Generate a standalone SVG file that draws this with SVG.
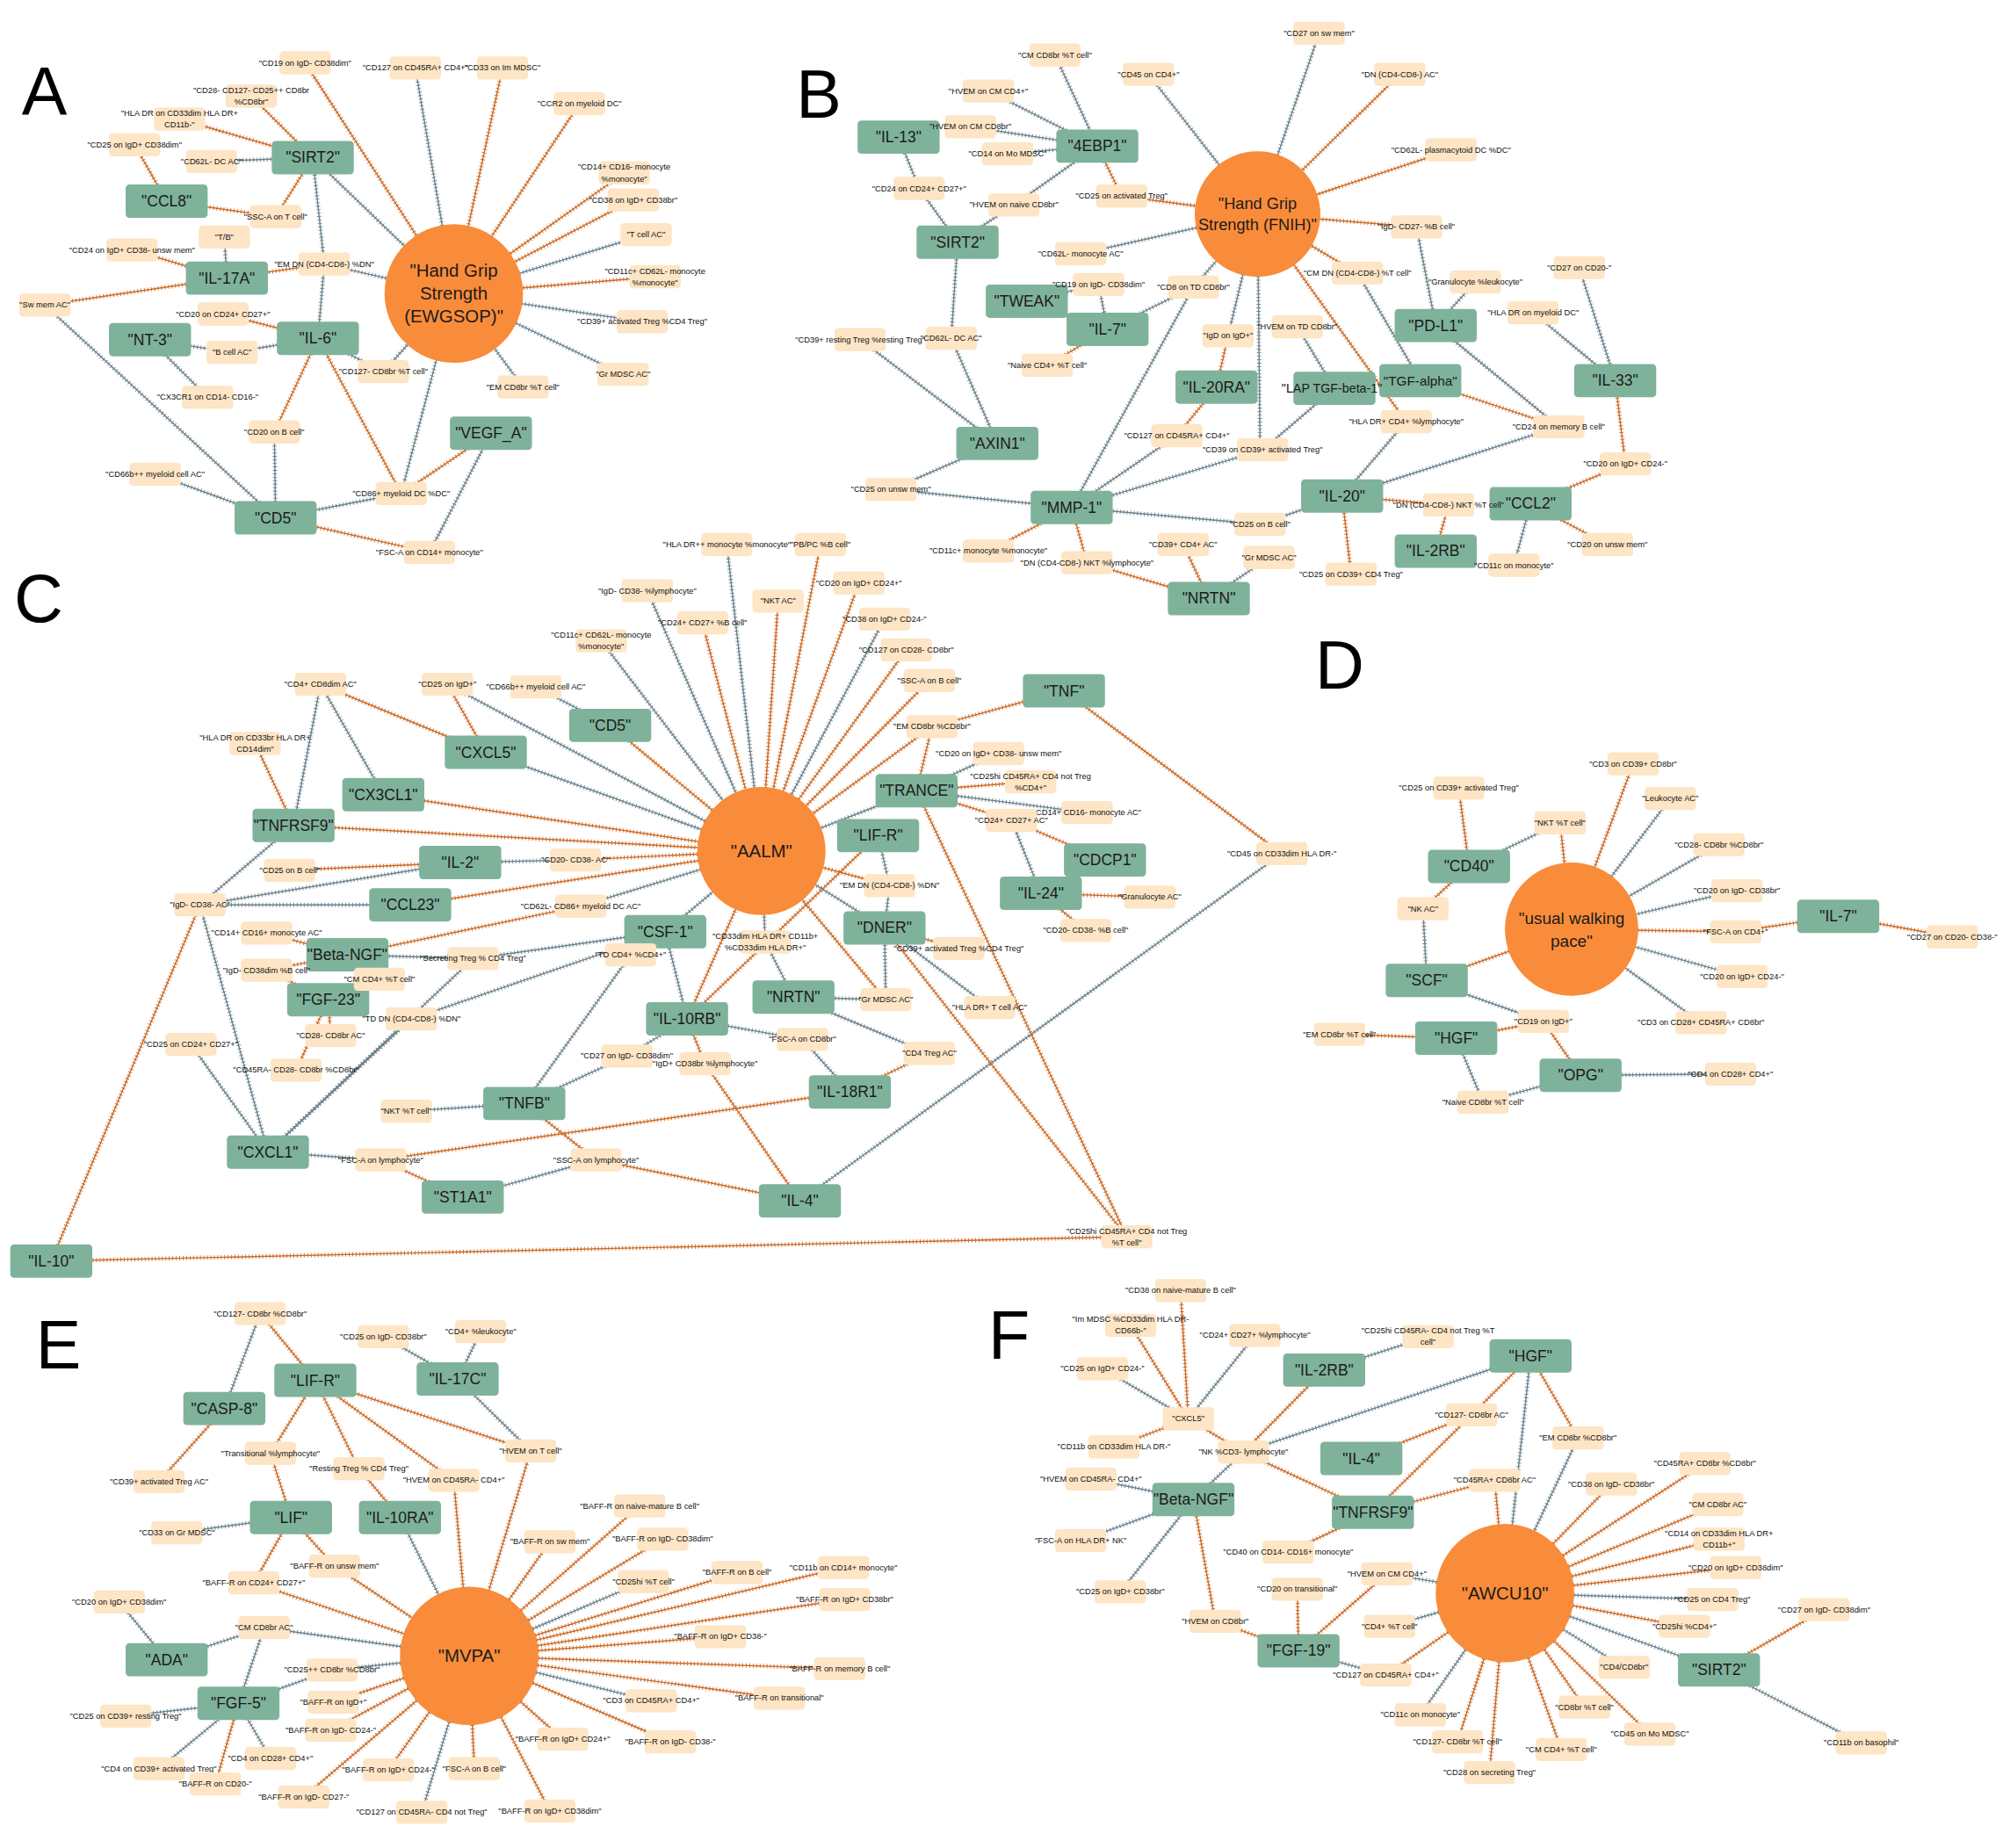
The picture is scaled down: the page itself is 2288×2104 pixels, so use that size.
<svg xmlns="http://www.w3.org/2000/svg" xmlns:xlink="http://www.w3.org/1999/xlink" width="2288" height="2104" viewBox="0 0 2288 2104">
<style>
.h circle{fill:#f98c3a}
.h text{font:14px "Liberation Sans",Arial,sans-serif;text-anchor:middle;dominant-baseline:central;fill:#1b1b1b}
.n use{fill:#7fb29b}
.n text{font:12px "Liberation Sans",Arial,sans-serif;text-anchor:middle;dominant-baseline:central;fill:#1b1b1b}
.l use{fill:#fde5c5}
.l text{font:6.4px "Liberation Sans",Arial,sans-serif;text-anchor:middle;dominant-baseline:central;fill:#111}
.o{stroke:#cc6a24;fill:none}
.g{stroke:#6b828c;fill:none}
.tk{stroke-width:3.4px;stroke-dasharray:.6 2.1}
.pl{font:53px "Liberation Sans",Arial,sans-serif;fill:#000}
</style>
<defs>
<rect id="nb" x="-32" y="-13" width="64" height="26" rx="3"/>
<rect id="lb" x="-20" y="-9" width="40" height="18" rx="3"/>
</defs>
<rect width="2288" height="2104" fill="#fff"/>
<g transform="scale(1.459184)">
<g id="edges">
<path class="o" d="M238 49L354 229"/><path class="g" d="M324 53L354 229"/><path class="o" d="M392 53L354 229"/><path class="o" d="M452 81L354 229"/><path class="o" d="M487 135L354 229"/><path class="o" d="M494 156L354 229"/><path class="g" d="M504 183L354 229"/><path class="o" d="M511 216L354 229"/><path class="g" d="M501 251L354 229"/><path class="g" d="M486 292L354 229"/><path class="g" d="M408 302L354 229"/><path class="g" d="M299 290L354 229"/><path class="g" d="M299 290L248 264"/><path class="g" d="M244 123L354 229"/><path class="g" d="M253 206L354 229"/><path class="o" d="M253 206L177 217"/><path class="g" d="M244 123L253 206"/><path class="g" d="M253 206L248 264"/><path class="o" d="M196 75L244 123"/><path class="o" d="M140 93L244 123"/><path class="g" d="M165 126L244 123"/><path class="o" d="M215 169L244 123"/><path class="o" d="M215 169L130 157"/><path class="o" d="M105 113L130 157"/><path class="g" d="M175 185L177 217"/><path class="o" d="M103 195L177 217"/><path class="o" d="M35 238L177 217"/><path class="g" d="M35 238L215 404"/><path class="o" d="M174 245L248 264"/><path class="g" d="M181 275L248 264"/><path class="g" d="M181 275L117 265"/><path class="g" d="M162 310L117 265"/><path class="o" d="M248 264L214 337"/><path class="g" d="M214 337L215 404"/><path class="o" d="M248 264L313 385"/><path class="g" d="M313 385L354 229"/><path class="g" d="M313 385L215 404"/><path class="o" d="M383 338L313 385"/><path class="g" d="M383 338L335 431"/><path class="o" d="M335 431L215 404"/><path class="g" d="M121 370L215 404"/>
<path class="g" d="M823 43L856 114"/><path class="g" d="M771 71L856 114"/><path class="g" d="M757 99L856 114"/><path class="g" d="M786 120L856 114"/><path class="g" d="M791 160L856 114"/><path class="g" d="M791 160L747 189"/><path class="o" d="M856 114L875 153"/><path class="o" d="M875 153L981 167"/><path class="g" d="M896 58L981 167"/><path class="g" d="M701 107L717 147"/><path class="g" d="M717 147L747 189"/><path class="g" d="M843 198L981 167"/><path class="g" d="M747 189L742 264"/><path class="g" d="M742 264L778 346"/><path class="g" d="M671 265L778 346"/><path class="g" d="M801 235L857 222"/><path class="g" d="M857 222L864 257"/><path class="g" d="M931 224L864 257"/><path class="g" d="M931 224L981 167"/><path class="o" d="M817 285L864 257"/><path class="g" d="M931 224L836 396"/><path class="g" d="M958 262L981 167"/><path class="o" d="M958 262L949 302"/><path class="o" d="M949 302L918 340"/><path class="g" d="M918 340L836 396"/><path class="g" d="M981 167L983 351"/><path class="g" d="M985 351L836 396"/><path class="g" d="M1041 303L985 351"/><path class="g" d="M1012 255L1041 303"/><path class="g" d="M695 382L836 396"/><path class="g" d="M778 346L695 382"/><path class="g" d="M836 396L983 409"/><path class="g" d="M983 409L1047 387"/><path class="o" d="M836 396L771 430"/><path class="o" d="M836 396L848 439"/><path class="o" d="M848 439L943 467"/><path class="o" d="M923 425L943 467"/><path class="g" d="M990 435L943 467"/><path class="g" d="M1029 26L981 167"/><path class="o" d="M1092 58L981 167"/><path class="o" d="M1132 117L981 167"/><path class="o" d="M1105 177L981 167"/><path class="g" d="M1105 177L1120 254"/><path class="o" d="M1059 213L981 167"/><path class="g" d="M1059 213L1108 297"/><path class="o" d="M981 167L1097 329"/><path class="g" d="M1097 329L1047 387"/><path class="g" d="M1151 220L1120 254"/><path class="g" d="M1120 254L1216 333"/><path class="o" d="M1108 297L1216 333"/><path class="g" d="M1216 333L1047 387"/><path class="g" d="M1196 244L1260 297"/><path class="g" d="M1232 209L1260 297"/><path class="o" d="M1260 297L1268 362"/><path class="o" d="M1268 362L1194 393"/><path class="o" d="M1130 394L1047 387"/><path class="o" d="M1130 394L1120 430"/><path class="o" d="M1047 387L1054 448"/><path class="g" d="M1194 393L1181 441"/><path class="o" d="M1194 393L1254 425"/>
<path class="g" d="M567 425L594 664"/><path class="o" d="M640 425L594 664"/><path class="g" d="M505 461L594 664"/><path class="o" d="M607 469L594 664"/><path class="o" d="M670 455L594 664"/><path class="o" d="M548 486L594 664"/><path class="g" d="M690 483L594 664"/><path class="g" d="M469 500L594 664"/><path class="o" d="M707 507L594 664"/><path class="o" d="M725 531L594 664"/><path class="o" d="M476 566L594 664"/><path class="g" d="M349 534L594 664"/><path class="g" d="M379 587L594 664"/><path class="o" d="M299 620L594 664"/><path class="o" d="M229 644L594 664"/><path class="o" d="M449 671L594 664"/><path class="g" d="M359 673L449 671"/><path class="o" d="M226 679L359 673"/><path class="g" d="M156 706L359 673"/><path class="g" d="M156 706L320 706"/><path class="g" d="M156 706L229 644"/><path class="o" d="M320 706L594 664"/><path class="g" d="M453 707L594 664"/><path class="o" d="M453 707L271 745"/><path class="g" d="M519 727L594 664"/><path class="o" d="M727 567L830 539"/><path class="o" d="M727 567L594 664"/><path class="o" d="M727 567L715 617"/><path class="g" d="M779 588L715 617"/><path class="o" d="M804 610L715 617"/><path class="g" d="M715 617L848 634"/><path class="o" d="M715 617L789 640"/><path class="o" d="M789 640L862 671"/><path class="g" d="M789 640L812 697"/><path class="g" d="M715 617L594 664"/><path class="o" d="M830 539L1000 666"/><path class="g" d="M1000 666L624 937"/><path class="o" d="M715 617L879 965"/><path class="o" d="M690 724L879 965"/><path class="o" d="M40 984L879 965"/><path class="o" d="M40 984L156 706"/><path class="o" d="M897 700L812 697"/><path class="o" d="M812 697L847 726"/><path class="o" d="M594 664L694 691"/><path class="g" d="M694 691L685 652"/><path class="g" d="M694 691L690 724"/><path class="g" d="M594 664L690 724"/><path class="o" d="M690 724L748 740"/><path class="g" d="M690 724L691 780"/><path class="g" d="M619 778L691 780"/><path class="o" d="M594 664L691 780"/><path class="g" d="M690 724L772 786"/><path class="g" d="M594 664L597 735"/><path class="o" d="M594 664L536 795"/><path class="o" d="M685 652L536 795"/><path class="g" d="M597 735L619 778"/><path class="g" d="M536 795L626 811"/><path class="g" d="M626 811L663 852"/><path class="g" d="M619 778L725 822"/><path class="o" d="M725 822L663 852"/><path class="o" d="M536 795L550 830"/><path class="o" d="M550 830L624 937"/><path class="o" d="M663 852L297 905"/><path class="g" d="M297 905L209 899"/><path class="o" d="M297 905L361 934"/><path class="o" d="M409 861L465 905"/><path class="g" d="M465 905L361 934"/><path class="o" d="M465 905L624 937"/><path class="o" d="M250 534L379 587"/><path class="g" d="M250 534L229 644"/><path class="g" d="M250 534L299 620"/><path class="o" d="M349 534L379 587"/><path class="g" d="M418 536L476 566"/><path class="o" d="M199 580L229 644"/><path class="o" d="M208 728L271 745"/><path class="o" d="M208 757L271 745"/><path class="o" d="M208 757L256 780"/><path class="g" d="M271 745L369 748"/><path class="g" d="M369 748L519 727"/><path class="g" d="M369 748L209 899"/><path class="o" d="M296 764L256 780"/><path class="o" d="M258 808L256 780"/><path class="o" d="M231 835L256 780"/><path class="g" d="M519 727L321 795"/><path class="g" d="M321 795L209 899"/><path class="g" d="M156 706L209 899"/><path class="g" d="M149 815L209 899"/><path class="g" d="M519 727L492 745"/><path class="g" d="M492 745L409 861"/><path class="g" d="M489 824L409 861"/><path class="g" d="M489 824L536 795"/><path class="g" d="M519 727L536 795"/><path class="g" d="M317 867L409 861"/>
<path class="o" d="M1274 596L1226 725"/><path class="o" d="M1138 615L1146 676"/><path class="g" d="M1303 623L1226 725"/><path class="o" d="M1217 642L1226 725"/><path class="g" d="M1217 642L1146 676"/><path class="g" d="M1341 659L1226 725"/><path class="g" d="M1355 695L1226 725"/><path class="o" d="M1354 727L1226 725"/><path class="o" d="M1434 715L1354 727"/><path class="o" d="M1523 731L1434 715"/><path class="g" d="M1359 762L1226 725"/><path class="g" d="M1327 798L1226 725"/><path class="o" d="M1110 709L1146 676"/><path class="g" d="M1110 709L1113 765"/><path class="o" d="M1113 765L1226 725"/><path class="g" d="M1113 765L1204 797"/><path class="o" d="M1204 797L1136 810"/><path class="o" d="M1204 797L1233 839"/><path class="o" d="M1045 807L1136 810"/><path class="g" d="M1136 810L1157 860"/><path class="g" d="M1157 860L1233 839"/><path class="g" d="M1233 839L1350 838"/>
<path class="g" d="M203 1025L175 1099"/><path class="o" d="M203 1025L246 1077"/><path class="o" d="M175 1099L124 1156"/><path class="o" d="M246 1077L211 1134"/><path class="o" d="M211 1134L227 1184"/><path class="o" d="M246 1077L280 1146"/><path class="o" d="M280 1146L312 1184"/><path class="o" d="M246 1077L354 1155"/><path class="o" d="M354 1155L366 1292"/><path class="o" d="M246 1077L414 1132"/><path class="o" d="M414 1132L366 1292"/><path class="g" d="M357 1076L299 1043"/><path class="g" d="M375 1039L357 1076"/><path class="g" d="M357 1076L414 1132"/><path class="g" d="M138 1196L227 1184"/><path class="o" d="M227 1184L198 1235"/><path class="o" d="M198 1235L366 1292"/><path class="o" d="M227 1184L261 1222"/><path class="o" d="M261 1222L366 1292"/><path class="g" d="M312 1184L366 1292"/><path class="g" d="M93 1250L130 1295"/><path class="g" d="M206 1270L130 1295"/><path class="g" d="M366 1292L206 1270"/><path class="g" d="M186 1329L206 1270"/><path class="g" d="M259 1303L186 1329"/><path class="g" d="M366 1292L259 1303"/><path class="g" d="M98 1339L186 1329"/><path class="g" d="M124 1380L186 1329"/><path class="o" d="M168 1392L186 1329"/><path class="g" d="M211 1372L186 1329"/><path class="o" d="M366 1292L260 1328"/><path class="o" d="M366 1292L258 1350"/><path class="o" d="M366 1292L303 1381"/><path class="o" d="M366 1292L237 1402"/><path class="o" d="M366 1292L370 1380"/><path class="g" d="M366 1292L329 1414"/><path class="o" d="M366 1292L429 1413"/><path class="o" d="M366 1292L439 1357"/><path class="o" d="M366 1292L523 1359"/><path class="g" d="M366 1292L508 1327"/><path class="o" d="M366 1292L608 1325"/><path class="o" d="M366 1292L655 1302"/><path class="o" d="M366 1292L562 1277"/><path class="o" d="M366 1292L659 1248"/><path class="o" d="M366 1292L658 1223"/><path class="o" d="M366 1292L575 1227"/><path class="g" d="M366 1292L502 1234"/><path class="o" d="M366 1292L517 1201"/><path class="o" d="M366 1292L499 1175"/><path class="o" d="M366 1292L429 1203"/>
<path class="o" d="M921 1007L927 1107"/><path class="o" d="M882 1034L927 1107"/><path class="g" d="M979 1042L927 1107"/><path class="g" d="M860 1068L927 1107"/><path class="o" d="M869 1129L927 1107"/><path class="o" d="M970 1133L927 1107"/><path class="o" d="M970 1133L1033 1069"/><path class="g" d="M970 1133L1194 1058"/><path class="g" d="M970 1133L931 1170"/><path class="o" d="M970 1133L1071 1180"/><path class="g" d="M1114 1043L1033 1069"/><path class="o" d="M1148 1104L1194 1058"/><path class="o" d="M1148 1104L1062 1138"/><path class="o" d="M1148 1104L1071 1180"/><path class="o" d="M1166 1155L1071 1180"/><path class="o" d="M1166 1155L1174 1243"/><path class="g" d="M851 1154L931 1170"/><path class="g" d="M843 1202L931 1170"/><path class="g" d="M874 1242L931 1170"/><path class="o" d="M931 1170L948 1265"/><path class="o" d="M948 1265L1013 1288"/><path class="o" d="M1005 1211L1071 1180"/><path class="o" d="M1012 1240L1013 1288"/><path class="o" d="M1082 1228L1013 1288"/><path class="g" d="M1174 1243L1082 1228"/><path class="g" d="M1174 1243L1084 1269"/><path class="g" d="M1081 1307L1013 1288"/><path class="o" d="M1174 1243L1081 1307"/><path class="g" d="M1174 1243L1108 1338"/><path class="o" d="M1174 1243L1137 1359"/><path class="o" d="M1174 1243L1162 1383"/><path class="g" d="M1194 1058L1174 1243"/><path class="o" d="M1194 1058L1231 1122"/><path class="g" d="M1231 1122L1174 1243"/><path class="o" d="M1174 1243L1257 1158"/><path class="o" d="M1174 1243L1330 1142"/><path class="o" d="M1174 1243L1340 1174"/><path class="o" d="M1174 1243L1341 1201"/><path class="o" d="M1174 1243L1354 1223"/><path class="g" d="M1174 1243L1336 1248"/><path class="o" d="M1174 1243L1314 1269"/><path class="g" d="M1174 1243L1341 1303"/><path class="o" d="M1423 1256L1341 1303"/><path class="g" d="M1341 1303L1452 1360"/><path class="g" d="M1174 1243L1267 1301"/><path class="o" d="M1174 1243L1236 1332"/><path class="o" d="M1174 1243L1287 1353"/><path class="o" d="M1174 1243L1218 1365"/>
</g>
<use href="#edges" class="tk"/>

<g id="a-hub" class="h" transform="translate(354,229)"><circle r="54"/><text><tspan x="0" y="-18">"Hand Grip</tspan><tspan x="0" y="0">Strength</tspan><tspan x="0" y="18">(EWGSOP)"</tspan></text></g>
<g id="b-hub" class="h" transform="translate(981,167)"><circle r="49"/><text style="font-size:12.5px"><tspan x="0" y="-9">"Hand Grip</tspan><tspan x="0" y="8">Strength (FNIH)"</tspan></text></g>
<g id="c-hub" class="h" transform="translate(594,664)"><circle r="50"/><text>"AALM"</text></g>
<g id="d-hub" class="h" transform="translate(1226,725)"><circle r="52"/><text style="font-size:13px"><tspan x="0" y="-9">"usual walking</tspan><tspan x="0" y="9">pace"</tspan></text></g>
<g id="e-hub" class="h" transform="translate(366,1292)"><circle r="54"/><text>"MVPA"</text></g>
<g id="f-hub" class="h" transform="translate(1174,1243)"><circle r="54"/><text>"AWCU10"</text></g>

<g id="a-sirt2" class="n" transform="translate(244,123)"><use href="#nb"/><text>"SIRT2"</text></g>
<g id="a-ccl8" class="n" transform="translate(130,157)"><use href="#nb"/><text>"CCL8"</text></g>
<g id="a-il17a" class="n" transform="translate(177,217)"><use href="#nb"/><text>"IL-17A"</text></g>
<g id="a-nt3" class="n" transform="translate(117,265)"><use href="#nb"/><text>"NT-3"</text></g>
<g id="a-il6" class="n" transform="translate(248,264)"><use href="#nb"/><text>"IL-6"</text></g>
<g id="a-vegfa" class="n" transform="translate(383,338)"><use href="#nb"/><text>"VEGF_A"</text></g>
<g id="a-cd5" class="n" transform="translate(215,404)"><use href="#nb"/><text>"CD5"</text></g>

<g id="b-il13" class="n" transform="translate(701,107)"><use href="#nb"/><text>"IL-13"</text></g>
<g id="b-4ebp1" class="n" transform="translate(856,114)"><use href="#nb"/><text>"4EBP1"</text></g>
<g id="b-sirt2" class="n" transform="translate(747,189)"><use href="#nb"/><text>"SIRT2"</text></g>
<g id="b-tweak" class="n" transform="translate(801,235)"><use href="#nb"/><text>"TWEAK"</text></g>
<g id="b-il7" class="n" transform="translate(864,257)"><use href="#nb"/><text>"IL-7"</text></g>
<g id="b-il20ra" class="n" transform="translate(949,302)"><use href="#nb"/><text>"IL-20RA"</text></g>
<g id="b-axin1" class="n" transform="translate(778,346)"><use href="#nb"/><text>"AXIN1"</text></g>
<g id="b-mmp1" class="n" transform="translate(836,396)"><use href="#nb"/><text>"MMP-1"</text></g>
<g id="b-nrtn" class="n" transform="translate(943,467)"><use href="#nb"/><text>"NRTN"</text></g>
<g id="b-pdl1" class="n" transform="translate(1120,254)"><use href="#nb"/><text>"PD-L1"</text></g>
<g id="b-tgfa" class="n" transform="translate(1108,297)"><use href="#nb"/><text style="font-size:10.5px">"TGF-alpha"</text></g>
<g id="b-lap" class="n" transform="translate(1041,303)"><use href="#nb"/><text x="-2" style="font-size:9.8px">"LAP TGF-beta-1"</text></g>
<g id="b-il33" class="n" transform="translate(1260,297)"><use href="#nb"/><text>"IL-33"</text></g>
<g id="b-il20" class="n" transform="translate(1047,387)"><use href="#nb"/><text>"IL-20"</text></g>
<g id="b-ccl2" class="n" transform="translate(1194,393)"><use href="#nb"/><text>"CCL2"</text></g>
<g id="b-il2rb" class="n" transform="translate(1120,430)"><use href="#nb"/><text>"IL-2RB"</text></g>

<g id="c-cd5" class="n" transform="translate(476,566)"><use href="#nb"/><text>"CD5"</text></g>
<g id="c-cxcl5" class="n" transform="translate(379,587)"><use href="#nb"/><text>"CXCL5"</text></g>
<g id="c-cx3cl1" class="n" transform="translate(299,620)"><use href="#nb"/><text>"CX3CL1"</text></g>
<g id="c-tnfrsf9" class="n" transform="translate(229,644)"><use href="#nb"/><text>"TNFRSF9"</text></g>
<g id="c-il2" class="n" transform="translate(359,673)"><use href="#nb"/><text>"IL-2"</text></g>
<g id="c-ccl23" class="n" transform="translate(320,706)"><use href="#nb"/><text>"CCL23"</text></g>
<g id="c-csf1" class="n" transform="translate(519,727)"><use href="#nb"/><text>"CSF-1"</text></g>
<g id="c-bngf" class="n" transform="translate(271,745)"><use href="#nb"/><text>"Beta-NGF"</text></g>
<g id="c-fgf23" class="n" transform="translate(256,780)"><use href="#nb"/><text>"FGF-23"</text></g>
<g id="c-cxcl1" class="n" transform="translate(209,899)"><use href="#nb"/><text>"CXCL1"</text></g>
<g id="c-tnfb" class="n" transform="translate(409,861)"><use href="#nb"/><text>"TNFB"</text></g>
<g id="c-st1a1" class="n" transform="translate(361,934)"><use href="#nb"/><text>"ST1A1"</text></g>
<g id="c-il10" class="n" transform="translate(40,984)"><use href="#nb"/><text>"IL-10"</text></g>
<g id="c-tnf" class="n" transform="translate(830,539)"><use href="#nb"/><text>"TNF"</text></g>
<g id="c-trance" class="n" transform="translate(715,617)"><use href="#nb"/><text>"TRANCE"</text></g>
<g id="c-lifr" class="n" transform="translate(685,652)"><use href="#nb"/><text>"LIF-R"</text></g>
<g id="c-cdcp1" class="n" transform="translate(862,671)"><use href="#nb"/><text>"CDCP1"</text></g>
<g id="c-il24" class="n" transform="translate(812,697)"><use href="#nb"/><text>"IL-24"</text></g>
<g id="c-dner" class="n" transform="translate(690,724)"><use href="#nb"/><text>"DNER"</text></g>
<g id="c-nrtn" class="n" transform="translate(619,778)"><use href="#nb"/><text>"NRTN"</text></g>
<g id="c-il10rb" class="n" transform="translate(536,795)"><use href="#nb"/><text>"IL-10RB"</text></g>
<g id="c-il18r1" class="n" transform="translate(663,852)"><use href="#nb"/><text>"IL-18R1"</text></g>
<g id="c-il4" class="n" transform="translate(624,937)"><use href="#nb"/><text>"IL-4"</text></g>

<g id="d-cd40" class="n" transform="translate(1146,676)"><use href="#nb"/><text>"CD40"</text></g>
<g id="d-scf" class="n" transform="translate(1113,765)"><use href="#nb"/><text>"SCF"</text></g>
<g id="d-hgf" class="n" transform="translate(1136,810)"><use href="#nb"/><text>"HGF"</text></g>
<g id="d-opg" class="n" transform="translate(1233,839)"><use href="#nb"/><text>"OPG"</text></g>
<g id="d-il7" class="n" transform="translate(1434,715)"><use href="#nb"/><text>"IL-7"</text></g>

<g id="e-casp8" class="n" transform="translate(175,1099)"><use href="#nb"/><text>"CASP-8"</text></g>
<g id="e-lifr" class="n" transform="translate(246,1077)"><use href="#nb"/><text>"LIF-R"</text></g>
<g id="e-il17c" class="n" transform="translate(357,1076)"><use href="#nb"/><text>"IL-17C"</text></g>
<g id="e-lif" class="n" transform="translate(227,1184)"><use href="#nb"/><text>"LIF"</text></g>
<g id="e-il10ra" class="n" transform="translate(312,1184)"><use href="#nb"/><text>"IL-10RA"</text></g>
<g id="e-ada" class="n" transform="translate(130,1295)"><use href="#nb"/><text>"ADA"</text></g>
<g id="e-fgf5" class="n" transform="translate(186,1329)"><use href="#nb"/><text>"FGF-5"</text></g>

<g id="f-il2rb" class="n" transform="translate(1033,1069)"><use href="#nb"/><text>"IL-2RB"</text></g>
<g id="f-hgf" class="n" transform="translate(1194,1058)"><use href="#nb"/><text>"HGF"</text></g>
<g id="f-il4" class="n" transform="translate(1062,1138)"><use href="#nb"/><text>"IL-4"</text></g>
<g id="f-bngf" class="n" transform="translate(931,1170)"><use href="#nb"/><text>"Beta-NGF"</text></g>
<g id="f-tnfrsf9" class="n" transform="translate(1071,1180)"><use href="#nb"/><text>"TNFRSF9"</text></g>
<g id="f-fgf19" class="n" transform="translate(1013,1288)"><use href="#nb"/><text>"FGF-19"</text></g>
<g id="f-sirt2" class="n" transform="translate(1341,1303)"><use href="#nb"/><text>"SIRT2"</text></g>

<g id="a-l1" class="l" transform="translate(238,49)"><use href="#lb"/><text>"CD19 on IgD- CD38dim"</text></g>
<g id="a-l2" class="l" transform="translate(324,53)"><use href="#lb"/><text>"CD127 on CD45RA+ CD4+"</text></g>
<g id="a-l3" class="l" transform="translate(392,53)"><use href="#lb"/><text>"CD33 on Im MDSC"</text></g>
<g id="a-l4" class="l" transform="translate(452,81)"><use href="#lb"/><text>"CCR2 on myeloid DC"</text></g>
<g id="a-l5" class="l" transform="translate(196,75)"><use href="#lb"/><text><tspan x="0" y="-4.5">"CD28- CD127- CD25++ CD8br</tspan><tspan x="0" y="4.5">%CD8br"</tspan></text></g>
<g id="a-l6" class="l" transform="translate(140,93)"><use href="#lb"/><text><tspan x="0" y="-4.5">"HLA DR on CD33dim HLA DR+</tspan><tspan x="0" y="4.5">CD11b-"</tspan></text></g>
<g id="a-l7" class="l" transform="translate(105,113)"><use href="#lb"/><text>"CD25 on IgD+ CD38dim"</text></g>
<g id="a-l8" class="l" transform="translate(165,126)"><use href="#lb"/><text>"CD62L- DC AC"</text></g>
<g id="a-l9" class="l" transform="translate(487,135)"><use href="#lb"/><text><tspan x="0" y="-4.5">"CD14+ CD16- monocyte</tspan><tspan x="0" y="4.5">%monocyte"</tspan></text></g>
<g id="a-l10" class="l" transform="translate(494,156)"><use href="#lb"/><text>"CD38 on IgD+ CD38br"</text></g>
<g id="a-l11" class="l" transform="translate(504,183)"><use href="#lb"/><text>"T cell AC"</text></g>
<g id="a-l12" class="l" transform="translate(215,169)"><use href="#lb"/><text>"SSC-A on T cell"</text></g>
<g id="a-l13" class="l" transform="translate(175,185)"><use href="#lb"/><text>"T/B"</text></g>
<g id="a-l14" class="l" transform="translate(103,195)"><use href="#lb"/><text>"CD24 on IgD+ CD38- unsw mem"</text></g>
<g id="a-l15" class="l" transform="translate(253,206)"><use href="#lb"/><text>"EM DN (CD4-CD8-) %DN"</text></g>
<g id="a-l16" class="l" transform="translate(511,216)"><use href="#lb"/><text><tspan x="0" y="-4.5">"CD11c+ CD62L- monocyte</tspan><tspan x="0" y="4.5">%monocyte"</tspan></text></g>
<g id="a-l17" class="l" transform="translate(35,238)"><use href="#lb"/><text>"Sw mem AC"</text></g>
<g id="a-l18" class="l" transform="translate(501,251)"><use href="#lb"/><text>"CD39+ activated Treg %CD4 Treg"</text></g>
<g id="a-l19" class="l" transform="translate(174,245)"><use href="#lb"/><text>"CD20 on CD24+ CD27+"</text></g>
<g id="a-l20" class="l" transform="translate(181,275)"><use href="#lb"/><text>"B cell AC"</text></g>
<g id="a-l21" class="l" transform="translate(299,290)"><use href="#lb"/><text>"CD127- CD8br %T cell"</text></g>
<g id="a-l22" class="l" transform="translate(486,292)"><use href="#lb"/><text>"Gr MDSC AC"</text></g>
<g id="a-l23" class="l" transform="translate(408,302)"><use href="#lb"/><text>"EM CD8br %T cell"</text></g>
<g id="a-l24" class="l" transform="translate(162,310)"><use href="#lb"/><text>"CX3CR1 on CD14- CD16-"</text></g>
<g id="a-l25" class="l" transform="translate(214,337)"><use href="#lb"/><text>"CD20 on B cell"</text></g>
<g id="a-l26" class="l" transform="translate(121,370)"><use href="#lb"/><text>"CD66b++ myeloid cell AC"</text></g>
<g id="a-l27" class="l" transform="translate(313,385)"><use href="#lb"/><text>"CD86+ myeloid DC %DC"</text></g>
<g id="a-l28" class="l" transform="translate(335,431)"><use href="#lb"/><text>"FSC-A on CD14+ monocyte"</text></g>

<g id="b-l1" class="l" transform="translate(823,43)"><use href="#lb"/><text>"CM CD8br %T cell"</text></g>
<g id="b-l2" class="l" transform="translate(896,58)"><use href="#lb"/><text>"CD45 on CD4+"</text></g>
<g id="b-l3" class="l" transform="translate(771,71)"><use href="#lb"/><text>"HVEM on CM CD4+"</text></g>
<g id="b-l4" class="l" transform="translate(757,99)"><use href="#lb"/><text>"HVEM on CM CD8br"</text></g>
<g id="b-l5" class="l" transform="translate(786,120)"><use href="#lb"/><text>"CD14 on Mo MDSC"</text></g>
<g id="b-l6" class="l" transform="translate(717,147)"><use href="#lb"/><text>"CD24 on CD24+ CD27+"</text></g>
<g id="b-l7" class="l" transform="translate(791,160)"><use href="#lb"/><text>"HVEM on naive CD8br"</text></g>
<g id="b-l8" class="l" transform="translate(875,153)"><use href="#lb"/><text>"CD25 on activated Treg"</text></g>
<g id="b-l9" class="l" transform="translate(843,198)"><use href="#lb"/><text>"CD62L- monocyte AC"</text></g>
<g id="b-l10" class="l" transform="translate(857,222)"><use href="#lb"/><text>"CD19 on IgD- CD38dim"</text></g>
<g id="b-l11" class="l" transform="translate(931,224)"><use href="#lb"/><text>"CD8 on TD CD8br"</text></g>
<g id="b-l12" class="l" transform="translate(671,265)"><use href="#lb"/><text>"CD39+ resting Treg %resting Treg"</text></g>
<g id="b-l13" class="l" transform="translate(742,264)"><use href="#lb"/><text>"CD62L- DC AC"</text></g>
<g id="b-l14" class="l" transform="translate(817,285)"><use href="#lb"/><text>"Naive CD4+  %T cell"</text></g>
<g id="b-l15" class="l" transform="translate(958,262)"><use href="#lb"/><text>"IgD on IgD+"</text></g>
<g id="b-l16" class="l" transform="translate(918,340)"><use href="#lb"/><text>"CD127 on CD45RA+ CD4+"</text></g>
<g id="b-l17" class="l" transform="translate(985,351)"><use href="#lb"/><text>"CD39 on CD39+ activated Treg"</text></g>
<g id="b-l18" class="l" transform="translate(695,382)"><use href="#lb"/><text>"CD25 on unsw mem"</text></g>
<g id="b-l19" class="l" transform="translate(983,409)"><use href="#lb"/><text>"CD25 on B cell"</text></g>
<g id="b-l20" class="l" transform="translate(771,430)"><use href="#lb"/><text>"CD11c+ monocyte %monocyte"</text></g>
<g id="b-l21" class="l" transform="translate(848,439)"><use href="#lb"/><text>"DN (CD4-CD8-) NKT %lymphocyte"</text></g>
<g id="b-l22" class="l" transform="translate(923,425)"><use href="#lb"/><text>"CD39+ CD4+ AC"</text></g>
<g id="b-l23" class="l" transform="translate(990,435)"><use href="#lb"/><text>"Gr MDSC AC"</text></g>
<g id="b-l24" class="l" transform="translate(1029,26)"><use href="#lb"/><text>"CD27 on sw mem"</text></g>
<g id="b-l25" class="l" transform="translate(1092,58)"><use href="#lb"/><text>"DN (CD4-CD8-) AC"</text></g>
<g id="b-l26" class="l" transform="translate(1132,117)"><use href="#lb"/><text>"CD62L- plasmacytoid DC %DC"</text></g>
<g id="b-l27" class="l" transform="translate(1105,177)"><use href="#lb"/><text>"IgD- CD27- %B cell"</text></g>
<g id="b-l28" class="l" transform="translate(1059,213)"><use href="#lb"/><text>"CM DN (CD4-CD8-) %T cell"</text></g>
<g id="b-l29" class="l" transform="translate(1151,220)"><use href="#lb"/><text>"Granulocyte %leukocyte"</text></g>
<g id="b-l30" class="l" transform="translate(1232,209)"><use href="#lb"/><text>"CD27 on CD20-"</text></g>
<g id="b-l31" class="l" transform="translate(1196,244)"><use href="#lb"/><text>"HLA DR on myeloid DC"</text></g>
<g id="b-l32" class="l" transform="translate(1012,255)"><use href="#lb"/><text>"HVEM on TD CD8br"</text></g>
<g id="b-l33" class="l" transform="translate(1097,329)"><use href="#lb"/><text>"HLA DR+ CD4+ %lymphocyte"</text></g>
<g id="b-l34" class="l" transform="translate(1216,333)"><use href="#lb"/><text>"CD24 on memory B cell"</text></g>
<g id="b-l35" class="l" transform="translate(1268,362)"><use href="#lb"/><text>"CD20 on IgD+ CD24-"</text></g>
<g id="b-l36" class="l" transform="translate(1130,394)"><use href="#lb"/><text>"DN (CD4-CD8-) NKT %T cell"</text></g>
<g id="b-l37" class="l" transform="translate(1254,425)"><use href="#lb"/><text>"CD20 on unsw mem"</text></g>
<g id="b-l38" class="l" transform="translate(1181,441)"><use href="#lb"/><text>"CD11c on monocyte"</text></g>
<g id="b-l39" class="l" transform="translate(1054,448)"><use href="#lb"/><text>"CD25 on CD39+ CD4 Treg"</text></g>

<g id="c-l1" class="l" transform="translate(567,425)"><use href="#lb"/><text>"HLA DR++ monocyte %monocyte"</text></g>
<g id="c-l2" class="l" transform="translate(640,425)"><use href="#lb"/><text>"PB/PC %B cell"</text></g>
<g id="c-l3" class="l" transform="translate(505,461)"><use href="#lb"/><text>"IgD- CD38- %lymphocyte"</text></g>
<g id="c-l4" class="l" transform="translate(607,469)"><use href="#lb"/><text>"NKT AC"</text></g>
<g id="c-l5" class="l" transform="translate(670,455)"><use href="#lb"/><text>"CD20 on IgD+ CD24+"</text></g>
<g id="c-l6" class="l" transform="translate(548,486)"><use href="#lb"/><text>"CD24+ CD27+ %B cell"</text></g>
<g id="c-l7" class="l" transform="translate(690,483)"><use href="#lb"/><text>"CD38 on IgD+ CD24-"</text></g>
<g id="c-l8" class="l" transform="translate(469,500)"><use href="#lb"/><text><tspan x="0" y="-4.5">"CD11c+ CD62L- monocyte</tspan><tspan x="0" y="4.5">%monocyte"</tspan></text></g>
<g id="c-l9" class="l" transform="translate(707,507)"><use href="#lb"/><text>"CD127 on CD28- CD8br"</text></g>
<g id="c-l10" class="l" transform="translate(725,531)"><use href="#lb"/><text>"SSC-A on B cell"</text></g>
<g id="c-l11" class="l" transform="translate(250,534)"><use href="#lb"/><text>"CD4+ CD8dim AC"</text></g>
<g id="c-l12" class="l" transform="translate(349,534)"><use href="#lb"/><text>"CD25 on IgD+"</text></g>
<g id="c-l13" class="l" transform="translate(418,536)"><use href="#lb"/><text>"CD66b++ myeloid cell AC"</text></g>
<g id="c-l14" class="l" transform="translate(727,567)"><use href="#lb"/><text>"EM CD8br %CD8br"</text></g>
<g id="c-l15" class="l" transform="translate(199,580)"><use href="#lb"/><text><tspan x="0" y="-4.5">"HLA DR on CD33br HLA DR+</tspan><tspan x="0" y="4.5">CD14dim"</tspan></text></g>
<g id="c-l16" class="l" transform="translate(779,588)"><use href="#lb"/><text>"CD20 on IgD+ CD38- unsw mem"</text></g>
<g id="c-l17" class="l" transform="translate(804,610)"><use href="#lb"/><text><tspan x="0" y="-4.5">"CD25hi CD45RA+ CD4 not Treg</tspan><tspan x="0" y="4.5">%CD4+"</tspan></text></g>
<g id="c-l18" class="l" transform="translate(848,634)"><use href="#lb"/><text>"CD14+ CD16- monocyte AC"</text></g>
<g id="c-l19" class="l" transform="translate(789,640)"><use href="#lb"/><text>"CD24+ CD27+ AC"</text></g>
<g id="c-l20" class="l" transform="translate(1000,666)"><use href="#lb"/><text>"CD45 on CD33dim HLA DR-"</text></g>
<g id="c-l21" class="l" transform="translate(226,679)"><use href="#lb"/><text>"CD25 on B cell"</text></g>
<g id="c-l22" class="l" transform="translate(449,671)"><use href="#lb"/><text>"CD20- CD38- AC"</text></g>
<g id="c-l23" class="l" transform="translate(156,706)"><use href="#lb"/><text>"IgD- CD38- AC"</text></g>
<g id="c-l24" class="l" transform="translate(897,700)"><use href="#lb"/><text>"Granulocyte AC"</text></g>
<g id="c-l25" class="l" transform="translate(694,691)"><use href="#lb"/><text>"EM DN (CD4-CD8-) %DN"</text></g>
<g id="c-l26" class="l" transform="translate(453,707)"><use href="#lb"/><text>"CD62L- CD86+ myeloid DC AC"</text></g>
<g id="c-l27" class="l" transform="translate(597,735)"><use href="#lb"/><text><tspan x="0" y="-4.5">"CD33dim HLA DR+ CD11b+</tspan><tspan x="0" y="4.5">%CD33dim HLA DR+"</tspan></text></g>
<g id="c-l28" class="l" transform="translate(847,726)"><use href="#lb"/><text>"CD20- CD38- %B cell"</text></g>
<g id="c-l29" class="l" transform="translate(208,728)"><use href="#lb"/><text>"CD14+ CD16+ monocyte AC"</text></g>
<g id="c-l30" class="l" transform="translate(748,740)"><use href="#lb"/><text>"CD39+ activated Treg %CD4 Treg"</text></g>
<g id="c-l31" class="l" transform="translate(208,757)"><use href="#lb"/><text>"IgD- CD38dim %B cell"</text></g>
<g id="c-l32" class="l" transform="translate(369,748)"><use href="#lb"/><text>"Secreting Treg % CD4 Treg"</text></g>
<g id="c-l33" class="l" transform="translate(296,764)"><use href="#lb"/><text>"CM CD4+ %T cell"</text></g>
<g id="c-l34" class="l" transform="translate(492,745)"><use href="#lb"/><text>"TD CD4+ %CD4+"</text></g>
<g id="c-l35" class="l" transform="translate(691,780)"><use href="#lb"/><text>"Gr MDSC AC"</text></g>
<g id="c-l36" class="l" transform="translate(772,786)"><use href="#lb"/><text>"HLA DR+ T cell AC"</text></g>
<g id="c-l37" class="l" transform="translate(258,808)"><use href="#lb"/><text>"CD28- CD8br AC"</text></g>
<g id="c-l38" class="l" transform="translate(321,795)"><use href="#lb"/><text>"TD DN (CD4-CD8-) %DN"</text></g>
<g id="c-l39" class="l" transform="translate(149,815)"><use href="#lb"/><text>"CD25 on CD24+ CD27+"</text></g>
<g id="c-l40" class="l" transform="translate(489,824)"><use href="#lb"/><text>"CD27 on IgD- CD38dim"</text></g>
<g id="c-l41" class="l" transform="translate(550,830)"><use href="#lb"/><text>"IgD+ CD38br %lymphocyte"</text></g>
<g id="c-l42" class="l" transform="translate(626,811)"><use href="#lb"/><text>"FSC-A on CD8br"</text></g>
<g id="c-l43" class="l" transform="translate(725,822)"><use href="#lb"/><text>"CD4 Treg AC"</text></g>
<g id="c-l44" class="l" transform="translate(231,835)"><use href="#lb"/><text>"CD45RA- CD28- CD8br  %CD8br"</text></g>
<g id="c-l45" class="l" transform="translate(317,867)"><use href="#lb"/><text>"NKT %T cell"</text></g>
<g id="c-l46" class="l" transform="translate(297,905)"><use href="#lb"/><text>"FSC-A on lymphocyte"</text></g>
<g id="c-l47" class="l" transform="translate(465,905)"><use href="#lb"/><text>"SSC-A on lymphocyte"</text></g>
<g id="c-l48" class="l" transform="translate(879,965)"><use href="#lb"/><text><tspan x="0" y="-4.5">"CD25hi CD45RA+ CD4 not Treg</tspan><tspan x="0" y="4.5">%T cell"</tspan></text></g>

<g id="d-l1" class="l" transform="translate(1274,596)"><use href="#lb"/><text>"CD3 on CD39+ CD8br"</text></g>
<g id="d-l2" class="l" transform="translate(1138,615)"><use href="#lb"/><text>"CD25 on CD39+ activated Treg"</text></g>
<g id="d-l3" class="l" transform="translate(1303,623)"><use href="#lb"/><text>"Leukocyte AC"</text></g>
<g id="d-l4" class="l" transform="translate(1217,642)"><use href="#lb"/><text>"NKT %T cell"</text></g>
<g id="d-l5" class="l" transform="translate(1341,659)"><use href="#lb"/><text>"CD28- CD8br %CD8br"</text></g>
<g id="d-l6" class="l" transform="translate(1355,695)"><use href="#lb"/><text>"CD20 on IgD- CD38br"</text></g>
<g id="d-l7" class="l" transform="translate(1110,709)"><use href="#lb"/><text>"NK AC"</text></g>
<g id="d-l8" class="l" transform="translate(1354,727)"><use href="#lb"/><text>"FSC-A on CD4+"</text></g>
<g id="d-l9" class="l" transform="translate(1523,731)"><use href="#lb"/><text>"CD27 on CD20- CD38-"</text></g>
<g id="d-l10" class="l" transform="translate(1359,762)"><use href="#lb"/><text>"CD20 on IgD+ CD24-"</text></g>
<g id="d-l11" class="l" transform="translate(1204,797)"><use href="#lb"/><text>"CD19 on IgD+"</text></g>
<g id="d-l12" class="l" transform="translate(1327,798)"><use href="#lb"/><text>"CD3 on CD28+ CD45RA+ CD8br"</text></g>
<g id="d-l13" class="l" transform="translate(1045,807)"><use href="#lb"/><text>"EM CD8br %T cell"</text></g>
<g id="d-l14" class="l" transform="translate(1350,838)"><use href="#lb"/><text>"CD4 on CD28+ CD4+"</text></g>
<g id="d-l15" class="l" transform="translate(1157,860)"><use href="#lb"/><text>"Naive CD8br %T cell"</text></g>

<g id="e-l1" class="l" transform="translate(203,1025)"><use href="#lb"/><text>"CD127- CD8br %CD8br"</text></g>
<g id="e-l2" class="l" transform="translate(299,1043)"><use href="#lb"/><text>"CD25 on IgD- CD38br"</text></g>
<g id="e-l3" class="l" transform="translate(375,1039)"><use href="#lb"/><text>"CD4+ %leukocyte"</text></g>
<g id="e-l4" class="l" transform="translate(211,1134)"><use href="#lb"/><text>"Transitional %lymphocyte"</text></g>
<g id="e-l5" class="l" transform="translate(124,1156)"><use href="#lb"/><text>"CD39+ activated Treg AC"</text></g>
<g id="e-l6" class="l" transform="translate(280,1146)"><use href="#lb"/><text>"Resting Treg % CD4 Treg"</text></g>
<g id="e-l7" class="l" transform="translate(354,1155)"><use href="#lb"/><text>"HVEM on CD45RA- CD4+"</text></g>
<g id="e-l8" class="l" transform="translate(414,1132)"><use href="#lb"/><text>"HVEM on T cell"</text></g>
<g id="e-l9" class="l" transform="translate(138,1196)"><use href="#lb"/><text>"CD33 on Gr MDSC"</text></g>
<g id="e-l10" class="l" transform="translate(261,1222)"><use href="#lb"/><text>"BAFF-R on unsw mem"</text></g>
<g id="e-l11" class="l" transform="translate(198,1235)"><use href="#lb"/><text>"BAFF-R on CD24+ CD27+"</text></g>
<g id="e-l12" class="l" transform="translate(93,1250)"><use href="#lb"/><text>"CD20 on IgD+ CD38dim"</text></g>
<g id="e-l13" class="l" transform="translate(206,1270)"><use href="#lb"/><text>"CM CD8br AC"</text></g>
<g id="e-l14" class="l" transform="translate(259,1303)"><use href="#lb"/><text>"CD25++ CD8br %CD8br"</text></g>
<g id="e-l15" class="l" transform="translate(260,1328)"><use href="#lb"/><text>"BAFF-R on IgD+"</text></g>
<g id="e-l16" class="l" transform="translate(98,1339)"><use href="#lb"/><text>"CD25 on CD39+ resting Treg"</text></g>
<g id="e-l17" class="l" transform="translate(258,1350)"><use href="#lb"/><text>"BAFF-R on IgD- CD24-"</text></g>
<g id="e-l18" class="l" transform="translate(211,1372)"><use href="#lb"/><text>"CD4 on CD28+ CD4+"</text></g>
<g id="e-l19" class="l" transform="translate(124,1380)"><use href="#lb"/><text>"CD4 on CD39+ activated Treg"</text></g>
<g id="e-l20" class="l" transform="translate(168,1392)"><use href="#lb"/><text>"BAFF-R on CD20-"</text></g>
<g id="e-l21" class="l" transform="translate(303,1381)"><use href="#lb"/><text>"BAFF-R on IgD+ CD24-"</text></g>
<g id="e-l22" class="l" transform="translate(370,1380)"><use href="#lb"/><text>"FSC-A on B cell"</text></g>
<g id="e-l23" class="l" transform="translate(237,1402)"><use href="#lb"/><text>"BAFF-R on IgD- CD27-"</text></g>
<g id="e-l24" class="l" transform="translate(329,1414)"><use href="#lb"/><text>"CD127 on CD45RA- CD4 not Treg"</text></g>
<g id="e-l25" class="l" transform="translate(429,1413)"><use href="#lb"/><text>"BAFF-R on IgD+ CD38dim"</text></g>
<g id="e-l26" class="l" transform="translate(499,1175)"><use href="#lb"/><text>"BAFF-R on naive-mature B cell"</text></g>
<g id="e-l27" class="l" transform="translate(429,1203)"><use href="#lb"/><text>"BAFF-R on sw mem"</text></g>
<g id="e-l28" class="l" transform="translate(517,1201)"><use href="#lb"/><text>"BAFF-R on IgD- CD38dim"</text></g>
<g id="e-l29" class="l" transform="translate(502,1234)"><use href="#lb"/><text>"CD25hi %T cell"</text></g>
<g id="e-l30" class="l" transform="translate(575,1227)"><use href="#lb"/><text>"BAFF-R on B cell"</text></g>
<g id="e-l31" class="l" transform="translate(658,1223)"><use href="#lb"/><text>"CD11b on CD14+ monocyte"</text></g>
<g id="e-l32" class="l" transform="translate(659,1248)"><use href="#lb"/><text>"BAFF-R on IgD+ CD38br"</text></g>
<g id="e-l33" class="l" transform="translate(562,1277)"><use href="#lb"/><text>"BAFF-R on IgD+ CD38-"</text></g>
<g id="e-l34" class="l" transform="translate(655,1302)"><use href="#lb"/><text>"BAFF-R on memory B cell"</text></g>
<g id="e-l35" class="l" transform="translate(508,1327)"><use href="#lb"/><text>"CD3 on CD45RA+ CD4+"</text></g>
<g id="e-l36" class="l" transform="translate(608,1325)"><use href="#lb"/><text>"BAFF-R on transitional"</text></g>
<g id="e-l37" class="l" transform="translate(439,1357)"><use href="#lb"/><text>"BAFF-R on IgD+ CD24+"</text></g>
<g id="e-l38" class="l" transform="translate(523,1359)"><use href="#lb"/><text>"BAFF-R on IgD- CD38-"</text></g>

<g id="f-l1" class="l" transform="translate(921,1007)"><use href="#lb"/><text>"CD38 on naive-mature B cell"</text></g>
<g id="f-l2" class="l" transform="translate(882,1034)"><use href="#lb"/><text><tspan x="0" y="-4.5">"Im MDSC %CD33dim HLA DR-</tspan><tspan x="0" y="4.5">CD66b-"</tspan></text></g>
<g id="f-l3" class="l" transform="translate(979,1042)"><use href="#lb"/><text>"CD24+ CD27+ %lymphocyte"</text></g>
<g id="f-l4" class="l" transform="translate(1114,1043)"><use href="#lb"/><text><tspan x="0" y="-4.5">"CD25hi CD45RA- CD4 not Treg %T</tspan><tspan x="0" y="4.5">cell"</tspan></text></g>
<g id="f-l5" class="l" transform="translate(860,1068)"><use href="#lb"/><text>"CD25 on IgD+ CD24-"</text></g>
<g id="f-l6" class="l" transform="translate(927,1107)"><use href="#lb"/><text>"CXCL5"</text></g>
<g id="f-l7" class="l" transform="translate(869,1129)"><use href="#lb"/><text>"CD11b on CD33dim HLA DR-"</text></g>
<g id="f-l8" class="l" transform="translate(970,1133)"><use href="#lb"/><text>"NK %CD3- lymphocyte"</text></g>
<g id="f-l9" class="l" transform="translate(1148,1104)"><use href="#lb"/><text>"CD127- CD8br AC"</text></g>
<g id="f-l10" class="l" transform="translate(851,1154)"><use href="#lb"/><text>"HVEM on CD45RA- CD4+"</text></g>
<g id="f-l11" class="l" transform="translate(1166,1155)"><use href="#lb"/><text>"CD45RA+ CD8br AC"</text></g>
<g id="f-l12" class="l" transform="translate(843,1202)"><use href="#lb"/><text>"FSC-A on HLA DR+ NK"</text></g>
<g id="f-l13" class="l" transform="translate(1005,1211)"><use href="#lb"/><text>"CD40 on CD14- CD16+ monocyte"</text></g>
<g id="f-l14" class="l" transform="translate(874,1242)"><use href="#lb"/><text>"CD25 on IgD+ CD38br"</text></g>
<g id="f-l15" class="l" transform="translate(1082,1228)"><use href="#lb"/><text>"HVEM on CM CD4+"</text></g>
<g id="f-l16" class="l" transform="translate(1012,1240)"><use href="#lb"/><text>"CD20 on transitional"</text></g>
<g id="f-l17" class="l" transform="translate(1084,1269)"><use href="#lb"/><text>"CD4+ %T cell"</text></g>
<g id="f-l18" class="l" transform="translate(948,1265)"><use href="#lb"/><text>"HVEM on CD8br"</text></g>
<g id="f-l19" class="l" transform="translate(1081,1307)"><use href="#lb"/><text>"CD127 on CD45RA+ CD4+"</text></g>
<g id="f-l20" class="l" transform="translate(1108,1338)"><use href="#lb"/><text>"CD11c on monocyte"</text></g>
<g id="f-l21" class="l" transform="translate(1137,1359)"><use href="#lb"/><text>"CD127- CD8br %T cell"</text></g>
<g id="f-l22" class="l" transform="translate(1162,1383)"><use href="#lb"/><text>"CD28 on secreting Treg"</text></g>
<g id="f-l23" class="l" transform="translate(1231,1122)"><use href="#lb"/><text>"EM CD8br %CD8br"</text></g>
<g id="f-l24" class="l" transform="translate(1330,1142)"><use href="#lb"/><text>"CD45RA+ CD8br  %CD8br"</text></g>
<g id="f-l25" class="l" transform="translate(1257,1158)"><use href="#lb"/><text>"CD38 on IgD- CD38br"</text></g>
<g id="f-l26" class="l" transform="translate(1340,1174)"><use href="#lb"/><text>"CM CD8br AC"</text></g>
<g id="f-l27" class="l" transform="translate(1341,1201)"><use href="#lb"/><text><tspan x="0" y="-4.5">"CD14  on CD33dim HLA DR+</tspan><tspan x="0" y="4.5">CD11b+"</tspan></text></g>
<g id="f-l28" class="l" transform="translate(1354,1223)"><use href="#lb"/><text>"CD20 on IgD+ CD38dim"</text></g>
<g id="f-l29" class="l" transform="translate(1336,1248)"><use href="#lb"/><text>"CD25 on CD4 Treg"</text></g>
<g id="f-l30" class="l" transform="translate(1423,1256)"><use href="#lb"/><text>"CD27 on IgD- CD38dim"</text></g>
<g id="f-l31" class="l" transform="translate(1314,1269)"><use href="#lb"/><text>"CD25hi %CD4+"</text></g>
<g id="f-l32" class="l" transform="translate(1267,1301)"><use href="#lb"/><text>"CD4/CD8br"</text></g>
<g id="f-l33" class="l" transform="translate(1236,1332)"><use href="#lb"/><text>"CD8br %T cell"</text></g>
<g id="f-l34" class="l" transform="translate(1287,1353)"><use href="#lb"/><text>"CD45 on Mo MDSC"</text></g>
<g id="f-l35" class="l" transform="translate(1218,1365)"><use href="#lb"/><text>"CM CD4+ %T cell"</text></g>
<g id="f-l36" class="l" transform="translate(1452,1360)"><use href="#lb"/><text>"CD11b on basophil"</text></g>

<g id="panel-letters">
<text class="pl" x="17" y="90">A</text>
<text class="pl" x="621" y="92">B</text>
<text class="pl" x="11" y="485">C</text>
<text class="pl" x="1026" y="537">D</text>
<text class="pl" x="28" y="1068">E</text>
<text class="pl" x="771" y="1060">F</text>
</g>
</g>
</svg>
